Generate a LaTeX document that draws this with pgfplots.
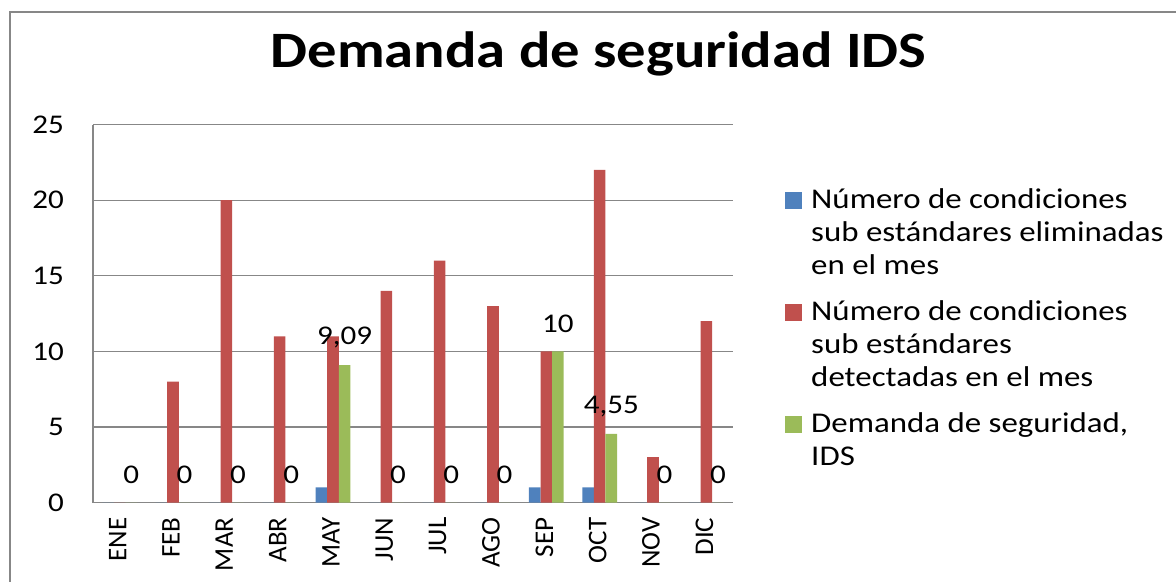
\documentclass[border=0pt]{standalone}
\usepackage{fontspec}
\setmainfont{Carlito}[FakeStretch=1.15]
\newfontfamily\plainfont{Carlito}
\usepackage{pgfplots}
\usepackage{pgfplotstable}
\pgfplotsset{compat=1.18}

\definecolor{xlblue}{HTML}{4F81BD}
\definecolor{xlred}{HTML}{C0504D}
\definecolor{xlgreen}{HTML}{9BBB59}
\definecolor{xlgrid}{HTML}{878787}

% columnas: posicion, mes, eliminadas, detectadas, IDS, etiqueta
\pgfplotstableread{
x mes elim det ids lab
0  ENE 0 0  0    0
1  FEB 0 8  0    0
2  MAR 0 20 0    0
3  ABR 0 11 0    0
4  MAY 1 11 9.09 9,09
5  JUN 0 14 0    0
6  JUL 0 16 0    0
7  AGO 0 13 0    0
8  SEP 1 10 10   10
9  OCT 1 22 4.55 4,55
10 NOV 0 3  0    0
11 DIC 0 12 0    0
}\datos

\newcommand{\entrada}[1]{\parbox[t]{185pt}{\raggedright\strut #1\strut}}

\begin{document}
\begin{tikzpicture}
\useasboundingbox (0,0) rectangle (588pt,291pt);
\begin{axis}[
    at={(46.5pt,39.7pt)}, anchor=south west,
    scale only axis,
    width=320pt, height=189pt,
    ybar=0pt, bar width=5.8pt,
    xmin=-0.5, xmax=11.5,
    ymin=0, ymax=25,
    ytick={0,5,...,25},
    xtick=data,
    xticklabels from table={\datos}{mes},
    axis lines*=left,
    axis line style={xlgrid, line width=0.6pt},
    ymajorgrids,
    grid style={xlgrid, line width=0.6pt},
    major tick length=0pt,
    /pgf/number format/assume math mode=true,
    yticklabel style={font=\fontsize{13.5}{16}\selectfont, xshift=-11pt},
    xticklabel style={font=\plainfont\fontsize{13.5}{16}\selectfont, rotate=90, anchor=east, xshift=-4pt, yshift=1pt},
    title={\bfseries Demanda de seguridad IDS},
    title style={font=\fontsize{25.5}{30}\selectfont, at={(0.79,1.118)}, anchor=base},
    legend style={
        at={(1.081,0.839)}, anchor=north west,
        draw=none, fill=none,
        inner xsep=0pt, inner ysep=0pt,
        font=\fontsize{14.3}{16.5}\selectfont,
        nodes={inner sep=0pt, text depth=},
        cells={anchor=base west},
        row sep=6.5pt, column sep=4.5pt,
    },
    legend image code/.code={\fill[#1] (0pt,0pt) rectangle (8.5pt,8.5pt);},
]
\addplot[fill=xlblue, draw=none] table[x=x, y=elim] {\datos};
\addlegendentry{\entrada{Número de condiciones\\sub estándares eliminadas\\en el mes}}
\addplot[fill=xlred, draw=none] table[x=x, y=det] {\datos};
\addlegendentry{\entrada{Número de condiciones\\sub estándares\\detectadas en el mes}}
\addplot[fill=xlgreen, draw=none,
    point meta=explicit symbolic,
    nodes near coords,
    nodes near coords style={font=\fontsize{13.5}{16}\selectfont, text=black, anchor=center, yshift=13.7pt}]
    table[x=x, y=ids, meta=lab] {\datos};
\addlegendentry{\entrada{Demanda de seguridad,\\IDS}}
\end{axis}
\draw[xlgrid, line width=1pt] (5pt,0pt) -- (5pt,285pt) -- (588pt,285pt);
\end{tikzpicture}
\end{document}
